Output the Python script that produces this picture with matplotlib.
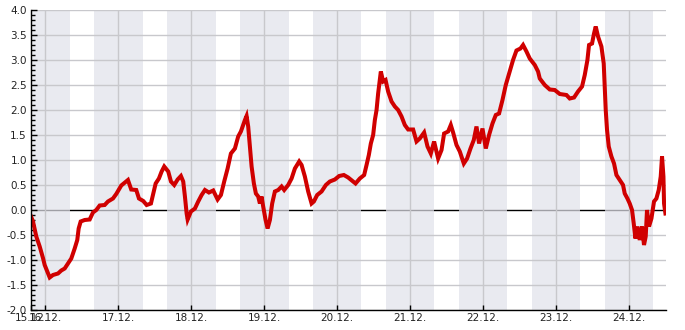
import matplotlib
matplotlib.use("Agg")
import matplotlib.pyplot as plt
from matplotlib.ticker import MultipleLocator, FormatStrFormatter

# hours since 15.12. 00:00
hours = [19.30, 19.96, 21.04, 22.16, 23.24, 23.80, 24.66, 25.45, 26.53, 28.18,
         29.26, 30.38, 31.46, 32.55, 33.67, 34.52, 34.98, 35.64, 36.95, 38.60,
         39.68, 40.77, 41.89, 43.53, 44.61, 46.26, 47.34, 48.99, 51.19, 52.27,
         53.92, 54.81, 56.22, 57.34, 58.75, 59.51, 60.30, 61.38, 62.27, 63.12,
         64.44, 65.33, 66.41, 67.53, 68.61, 69.37, 69.93, 70.49, 70.82, 71.90,
         73.22, 74.30, 75.42, 76.51, 77.82, 79.23, 80.68, 81.77, 82.85, 83.97,
         85.05, 86.37, 87.45, 88.34, 89.10, 89.66, 90.21, 90.74, 91.30, 91.86,
         92.61, 93.27, 94.03, 94.59, 95.14, 95.67, 96.46, 97.12, 97.88, 98.63,
         99.52, 100.61, 101.72, 102.58, 103.89, 105.01, 106.10, 107.51, 108.30, 109.38,
         110.47, 111.59, 112.34, 113.43, 114.87, 116.29, 117.60, 119.25, 120.66, 122.20,
         123.62, 126.05, 127.46, 128.88, 129.67, 130.42, 131.08, 131.84, 132.40, 132.96,
         133.48, 134.04, 134.37, 135.13, 135.92, 136.77, 137.89, 138.98, 140.06, 141.18,
         142.26, 143.35, 144.99, 146.11, 147.19, 148.61, 149.72, 150.81, 151.89, 153.21,
         154.33, 155.18, 156.50, 157.38, 158.14, 159.26, 160.34, 161.66, 162.74, 163.86,
         164.94, 165.83, 166.69, 167.80, 168.89, 169.97, 171.09, 172.18, 173.26, 174.38,
         175.46, 176.55, 177.86, 178.98, 180.30, 181.15, 182.27, 183.35, 185.00, 186.08,
         186.64, 188.28, 189.93, 191.57, 193.22, 195.42, 196.50, 197.92, 199.23, 200.55,
         201.44, 202.32, 202.85, 203.84, 204.49, 205.05, 205.81, 206.92, 207.68, 208.01,
         208.34, 208.77, 209.33, 210.21, 211.07, 211.86, 212.94, 214.03, 214.59, 215.48,
         216.23, 216.99, 217.55, 218.11, 218.76, 219.52, 220.27, 220.93, 221.49, 221.92,
         222.58, 223.37, 224.22, 225.01, 225.77, 226.43, 226.86, 227.32, 227.52, 227.98]

temps = [-0.13, -0.23, -0.53, -0.73, -0.96, -1.10, -1.23, -1.35, -1.30, -1.27,
         -1.21, -1.17, -1.07, -0.97, -0.77, -0.60, -0.37, -0.23, -0.20, -0.19,
         -0.05, 0.00, 0.09, 0.10, 0.17, 0.23, 0.32, 0.49, 0.60, 0.41,
         0.40, 0.23, 0.18, 0.10, 0.13, 0.33, 0.53, 0.63, 0.77, 0.87,
         0.77, 0.57, 0.50, 0.61, 0.68, 0.57, 0.27, -0.07, -0.19, -0.03,
         0.03, 0.17, 0.30, 0.40, 0.35, 0.39, 0.21, 0.30, 0.57, 0.83,
         1.13, 1.23, 1.47, 1.57, 1.70, 1.80, 1.88, 1.67, 1.27, 0.87,
         0.53, 0.33, 0.27, 0.13, 0.27, 0.07, -0.20, -0.37, -0.20, 0.13,
         0.37, 0.40, 0.47, 0.40, 0.50, 0.63, 0.83, 0.97, 0.90, 0.67,
         0.37, 0.13, 0.17, 0.30, 0.37, 0.50, 0.57, 0.61, 0.68, 0.70,
         0.65, 0.53, 0.63, 0.70, 0.90, 1.10, 1.33, 1.50, 1.80, 2.00,
         2.33, 2.60, 2.77, 2.57, 2.60, 2.37, 2.17, 2.07, 2.00, 1.87,
         1.70, 1.61, 1.61, 1.37, 1.43, 1.55, 1.27, 1.13, 1.37, 1.03,
         1.20, 1.53, 1.57, 1.70, 1.55, 1.30, 1.17, 0.93, 1.03, 1.23,
         1.40, 1.67, 1.33, 1.63, 1.23, 1.50, 1.73, 1.90, 1.93, 2.20,
         2.50, 2.73, 3.00, 3.19, 3.23, 3.30, 3.17, 3.03, 2.90, 2.77,
         2.63, 2.50, 2.41, 2.40, 2.32, 2.30, 2.23, 2.25, 2.37, 2.47,
         2.70, 3.00, 3.30, 3.33, 3.53, 3.67, 3.47, 3.27, 2.93, 2.47,
         2.00, 1.60, 1.27, 1.07, 0.93, 0.70, 0.60, 0.50, 0.33, 0.23,
         0.13, 0.00, -0.27, -0.57, -0.33, -0.60, -0.33, -0.70, -0.53, 0.00,
         -0.33, -0.17, 0.17, 0.23, 0.40, 0.67, 1.07, 0.67, 0.13, -0.07]

day_labels = ["15.12.", "16.12.", "17.12.", "18.12.", "19.12.", "20.12.",
              "21.12.", "22.12.", "23.12.", "24.12."]
day_ticks = [24 * k for k in range(1, 10)]
x_start, x_end = 19.3, 228.0

fig = plt.figure(figsize=(6.85, 3.30), dpi=100)
ax = fig.add_axes([31 / 685, 1 - 310 / 330, (665.5 - 31) / 685, 300 / 330])

# zero line under the night bands
ax.axhline(0, color="black", lw=1.0, zorder=0.5)
# night bands 16:00 - 08:00
for d in day_ticks:
    ax.axvspan(d - 8, d + 8, color=(225 / 255, 226 / 255, 234 / 255), alpha=0.71,
               lw=0, zorder=1)

ax.set_axisbelow(False)
for y in [v * 0.5 for v in range(-4, 9)]:
    if y != 0:
        ax.axhline(y, color="#c8c8cc", lw=1.0, zorder=1.5)
for d in day_ticks:
    ax.axvline(d, color="#c8c8cc", lw=1.0, zorder=1.5)

ax.plot(hours, temps, color="#d00000", lw=2.9, zorder=3, solid_joinstyle="miter")

ax.set_xlim(x_start, x_end)
ax.set_ylim(-2.0, 4.0)
ax.set_xticks([x_start] + day_ticks)
ax.set_xticklabels(day_labels)
ax.yaxis.set_major_locator(MultipleLocator(0.5))
ax.yaxis.set_minor_locator(MultipleLocator(0.1))
ax.yaxis.set_major_formatter(FormatStrFormatter("%.1f"))

for s in ["top", "right"]:
    ax.spines[s].set_visible(False)
for s in ["left", "bottom"]:
    ax.spines[s].set_color("black")
    ax.spines[s].set_linewidth(1.0)
    ax.spines[s].set_zorder(4)

ax.tick_params(axis="y", which="major", direction="in", length=4.5, width=1,
               labelsize=7.5, pad=3, colors="black", labelcolor="#222222")
ax.tick_params(axis="y", which="minor", direction="in", length=3, width=1)
ax.tick_params(axis="x", which="major", direction="in", length=3.5, width=1,
               labelsize=7.5, pad=2, colors="black", labelcolor="#222222")
ax.set_facecolor("white")

fig.savefig("out.png", dpi=100)
